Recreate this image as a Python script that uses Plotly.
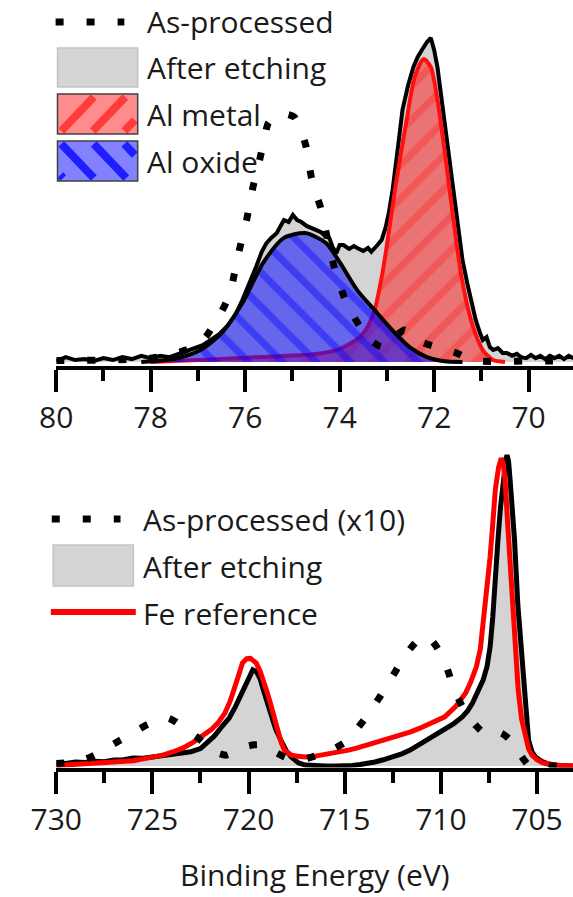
import plotly.graph_objects as go

# ---------------- Al 2p panel (top) ----------------
al_etched_be = [80.0, 79.8, 79.6, 79.4, 79.2, 79.0, 78.8, 78.6, 78.4, 78.2, 78.0, 77.8, 77.6, 77.47, 77.3,
                77.1, 76.9, 76.73, 76.55, 76.36, 76.2, 76.06, 75.9, 75.77, 75.65, 75.55, 75.45, 75.33, 75.25,
                75.18, 75.08, 74.99, 74.9, 74.81, 74.7, 74.6, 74.52, 74.4, 74.3, 74.22, 74.15, 74.07, 74.0,
                73.92, 73.8, 73.7, 73.63, 73.5, 73.4, 73.33, 73.2, 73.11, 73.03, 72.96, 72.88, 72.81, 72.74,
                72.67, 72.55, 72.44, 72.35, 72.26, 72.15, 72.07, 72.0, 71.93, 71.82, 71.75, 71.67, 71.58,
                71.49, 71.4, 71.3, 71.2, 71.12, 71.03, 70.97, 70.89, 70.82, 70.75, 70.65, 70.55, 70.46,
                70.35, 70.25, 70.16, 70.05, 69.95, 69.85, 69.75, 69.65, 69.55, 69.45, 69.35, 69.25, 69.15, 69.05]
al_etched_int = [0.3, 1.5, 0.6, 0.9, 0.3, 1.2, 0.6, 1.5, 0.9, 1.9, 1.2, 1.9, 1.5, 2.2, 3.1,
                 4.3, 5.2, 6.8, 8.6, 11.4, 14.8, 19.1, 24.4, 29.3, 34.0, 36.7, 38.3, 39.8, 42.0,
                 43.8, 43.2, 45.4, 43.8, 43.2, 42.0, 41.4, 40.7, 40.1, 38.9, 38.3, 35.5, 33.6, 36.1,
                 36.1, 34.9, 35.8, 35.2, 34.3, 35.2, 34.0, 36.1, 37.7, 41.4, 46.0, 53.1, 60.2, 69.4,
                 77.8, 85.5, 91.0, 94.1, 96.3, 98.8, 100.0, 96.3, 91.0, 78.7, 70.1, 60.2, 50.0,
                 39.8, 31.5, 24.4, 17.6, 13.0, 9.0, 6.8, 7.7, 4.6, 3.7, 4.3, 2.8, 2.8,
                 1.9, 2.5, 1.5, 1.2, 2.2, 1.2, 1.9, 0.9, 1.9, 1.2, 1.9, 0.9, 1.9, 1.2]

al_metal_be = [78.0, 77.0, 76.0, 75.0, 74.6, 74.0, 73.57, 73.4, 73.26, 73.1, 73.0, 72.81, 72.59, 72.41,
               72.22, 72.07, 71.93, 71.78, 71.6, 71.42, 71.2, 70.97, 70.75, 70.5]
al_metal_int = [0.0, 0.6, 1.3, 2.0, 2.3, 4.0, 7.7, 11.0, 16.0, 27.0, 36.0, 55.0, 74.0, 88.0,
                93.5, 91.0, 81.0, 65.4, 44.8, 26.2, 12.0, 3.7, 0.6, 0.0]

al_oxide_be = [78.2, 77.46, 76.95, 76.5, 76.06, 75.62, 75.18, 74.73, 74.29, 73.99, 73.63, 73.26,
               72.89, 72.52, 72.15, 71.78, 71.4]
al_oxide_int = [0.0, 1.1, 3.7, 8.9, 18.2, 30.6, 38.3, 39.8, 36.7, 30.6, 22.2, 16.0,
                9.9, 4.6, 1.5, 0.2, 0.0]

al_asproc_be = [80.0, 79.5, 79.0, 78.5, 78.0, 77.6, 77.2, 76.85, 76.54, 76.4, 76.28, 76.14, 75.97,
                75.84, 75.68, 75.51, 75.35, 75.2, 75.1, 74.96, 74.82, 74.71, 74.6, 74.5, 74.4, 74.25,
                74.1, 73.88, 73.7, 73.55, 73.35, 73.11, 72.9, 72.75, 72.63, 72.45, 72.26, 72.0, 71.8,
                71.53, 71.3, 71.04, 70.5, 70.0, 69.5, 69.06]
al_asproc_int = [0.5, 0.5, 0.6, 0.8, 1.2, 2.2, 4.0, 7.5, 14.5, 18.5, 23.8, 33.6, 43.8,
                 53.7, 63.3, 73.8, 76.0, 76.5, 76.4, 75.6, 71.5, 66.4, 57.1, 52.0, 47.5, 37.5,
                 28.4, 19.1, 14.0, 10.5, 6.8, 4.6, 6.5, 8.8, 9.9, 8.5, 6.2, 4.8, 4.0,
                 2.8, 1.2, 0.3, 0.2, 0.3, 0.3, 0.3]

# ---------------- Fe 2p panel (bottom) ----------------
fe_etched_be = [730.0, 729.5, 729.0, 728.5, 728.0, 727.5, 727.0, 726.5, 726.0, 725.5, 725.0, 724.5,
                724.0, 723.5, 723.0, 722.5, 722.14, 721.8, 721.41, 721.0, 720.69, 720.4, 720.14, 719.95,
                719.78, 719.6, 719.4, 719.23, 719.05, 718.87, 718.6, 718.33, 718.05, 717.78, 717.4,
                717.05, 716.5, 716.0, 715.5, 715.0, 714.6, 714.2, 713.8, 713.43, 713.0, 712.52, 712.0,
                711.6, 711.15, 710.7, 710.25, 709.8, 709.35, 708.89, 708.6, 708.35, 708.1, 707.8, 707.6,
                707.44, 707.3, 707.17, 707.03, 706.9, 706.75, 706.62, 706.56, 706.48, 706.4, 706.3,
                706.17, 706.0, 705.8, 705.62, 705.44, 705.26, 705.08, 704.7, 704.36, 704.0, 703.5, 703.1]
fe_etched_int = [1.0, 0.8, 1.3, 1.1, 1.5, 1.4, 1.9, 2.0, 2.6, 2.5, 2.9, 3.3,
                 3.7, 4.0, 4.6, 5.6, 7.4, 9.5, 12.5, 15.5, 19.0, 23.0, 26.7, 29.5,
                 30.9, 30.4, 28.0, 24.4, 20.5, 17.0, 12.0, 8.4, 5.0, 2.9, 1.0,
                 0.3, 0.0, 0.0, 0.0, 0.0, 0.2, 0.5, 0.8, 1.3, 2.0, 2.9, 4.0,
                 5.1, 6.7, 8.4, 10.0, 11.6, 13.5, 15.8, 17.8, 20.3, 23.5, 27.7, 32.0,
                 38.3, 48.0, 62.1, 73.0, 83.3, 93.0, 98.5, 100.0, 98.0, 92.0, 84.0,
                 72.7, 52.0, 35.0, 20.0, 8.4, 4.5, 2.9, 1.3, 0.5, 0.2, 0.0, 0.0]

fe_ref_be = [730.0, 729.0, 728.0, 727.03, 726.0, 725.22, 724.5, 723.95, 723.4, 722.87, 722.4, 721.96,
             721.6, 721.23, 720.95, 720.69, 720.5, 720.32, 720.1, 719.9, 719.75, 719.6, 719.4, 719.23,
             719.05, 718.87, 718.7, 718.5, 718.3, 718.14, 717.78, 717.4, 717.05, 716.6, 716.15, 715.7,
             715.24, 714.8, 714.34, 713.9, 713.43, 713.0, 712.52, 712.05, 711.61, 711.15, 710.7, 710.25,
             709.8, 709.25, 708.71, 708.45, 708.16, 707.95, 707.8, 707.6, 707.44, 707.3, 707.17, 707.0,
             706.86, 706.75, 706.65, 706.53, 706.4, 706.26, 706.12, 705.98, 705.8, 705.62, 705.44,
             705.26, 705.0, 704.71, 704.3, 703.8, 703.1]
fe_ref_int = [0.2, 0.5, 0.7, 1.0, 1.7, 2.6, 3.4, 4.5, 5.8, 7.7, 9.5, 11.6,
              13.8, 17.0, 21.0, 25.4, 29.5, 33.1, 34.5, 34.6, 34.0, 33.1, 30.5, 27.7,
              24.0, 20.3, 16.0, 11.6, 7.5, 5.1, 3.5, 3.1, 2.9, 3.1, 3.5, 4.0,
              4.5, 5.1, 5.8, 6.6, 7.4, 8.2, 9.0, 9.9, 10.9, 12.0, 13.2, 14.4,
              15.8, 19.0, 23.5, 27.0, 31.8, 37.5, 46.0, 56.0, 67.2, 78.0, 88.7, 96.0,
              99.0, 97.0, 91.0, 78.1, 65.0, 51.1, 37.0, 24.4, 15.0, 9.3, 5.5,
              3.5, 2.0, 1.0, 0.5, 0.2, 0.0]

fe_asproc_be = [730.0, 729.2, 728.6, 728.2, 727.7, 727.2, 726.7, 726.17, 725.7, 725.3, 724.75, 724.2,
                723.8, 723.45, 723.05, 722.68, 722.3, 721.9, 721.5, 721.15, 720.7, 720.23, 719.7, 719.23,
                718.9, 718.54, 718.0, 717.4, 716.7, 716.06, 715.5, 714.97, 714.6, 714.2, 713.85, 713.51,
                713.15, 712.79, 712.45, 712.16, 711.85, 711.52, 711.1, 710.74, 710.3, 709.88, 709.6,
                709.35, 709.0, 708.62, 708.15, 707.71, 707.3, 706.9, 706.6, 706.26, 705.85, 705.44,
                705.0, 704.0, 703.1]
fe_asproc_int = [0.8, 1.2, 2.0, 2.9, 4.5, 6.4, 8.2, 10.0, 11.8, 13.2, 14.6, 15.4,
                 14.2, 12.5, 10.8, 9.3, 7.3, 5.1, 3.9, 3.5, 4.6, 6.1, 6.8, 6.8,
                 5.6, 4.2, 2.6, 1.9, 2.9, 4.5, 5.8, 7.7, 10.2, 13.2, 16.0, 19.0,
                 22.5, 26.0, 29.5, 32.5, 35.5, 38.3, 41.0, 41.8, 39.0, 34.7, 30.0,
                 25.1, 20.5, 16.4, 12.8, 10.3, 10.2, 10.6, 9.5, 7.4, 3.5, 0.3,
                 0.0, 0.0, 0.0]

top_ticks = [80, 78, 76, 74, 72, 70]
bottom_ticks = [730, 725, 720, 715, 710, 705]
x_title = "Binding Energy (eV)"
top_legend = ["As-processed", "After etching", "Al metal", "Al oxide"]
bottom_legend = ["As-processed (x10)", "After etching", "Fe reference"]

# ---------------- styling / layout helpers ----------------
W, H = 573, 897
FONT = "Open Sans"
TXT = "#1a1a1a"
GREY = "#d4d4d4"
DOTS = "8px,23px"


def px(x):
    return x / W


def py(y):
    return 1 - y / H


def ydom(line_px, base_px, k, top_px):
    lp = line_px - 2
    dom = [py(lp), py(top_px)]
    r0 = -(lp - base_px) / k
    r1 = r0 + (lp - top_px) / k
    return dom, [r0, r1]


top_dom, top_rng = ydom(368, 362, 3.24, 0)
bot_dom, bot_rng = ydom(769.5, 766, 3.11, 440)
xdom = [31.7 / W, 1.0]

fig = go.Figure()

# top panel traces
fig.add_trace(go.Scatter(x=al_etched_be, y=al_etched_int, mode="lines", fill="tozeroy",
                         fillcolor=GREY, line=dict(color="black", width=4),
                         xaxis="x", yaxis="y", showlegend=False))
fig.add_trace(go.Scatter(x=al_metal_be, y=al_metal_int, mode="lines", fill="tozeroy",
                         line=dict(color="#ff1010", width=4, shape="spline", smoothing=0.7),
                         fillpattern=dict(shape="/", bgcolor="rgba(255,20,20,0.5)",
                                          fgcolor="rgba(255,40,40,0.75)", size=24, solidity=0.3),
                         xaxis="x", yaxis="y", showlegend=False))
fig.add_trace(go.Scatter(x=al_oxide_be, y=al_oxide_int, mode="lines", fill="tozeroy",
                         line=dict(color="black", width=4, shape="spline", smoothing=0.7),
                         fillpattern=dict(shape="\\", bgcolor="rgba(10,10,255,0.55)",
                                          fgcolor="rgba(0,0,255,0.8)", size=24, solidity=0.3),
                         xaxis="x", yaxis="y", showlegend=False))
fig.add_trace(go.Scatter(x=al_asproc_be, y=al_asproc_int, mode="lines",
                         line=dict(color="black", width=7, dash=DOTS, shape="spline", smoothing=0.6),
                         xaxis="x", yaxis="y", showlegend=False))

# bottom panel traces
fig.add_trace(go.Scatter(x=fe_etched_be, y=fe_etched_int, mode="lines", fill="tozeroy",
                         fillcolor=GREY, line=dict(color="black", width=5),
                         xaxis="x2", yaxis="y2", showlegend=False))
fig.add_trace(go.Scatter(x=fe_ref_be, y=fe_ref_int, mode="lines",
                         line=dict(color="#ff0000", width=5),
                         xaxis="x2", yaxis="y2", showlegend=False))
fig.add_trace(go.Scatter(x=fe_asproc_be, y=fe_asproc_int, mode="lines",
                         line=dict(color="black", width=7, dash=DOTS, shape="spline", smoothing=0.6),
                         xaxis="x2", yaxis="y2", showlegend=False))

axis_common = dict(
    showline=True, linewidth=4, linecolor="black", mirror=False,
    ticks="outside", ticklen=22, tickwidth=4, tickcolor="black",
    showgrid=False, zeroline=False,
    tickfont=dict(family=FONT, size=30, color=TXT),
)

fig.update_layout(
    width=W, height=H,
    margin=dict(l=0, r=0, t=0, b=0),
    paper_bgcolor="white", plot_bgcolor="white",
    xaxis=dict(domain=xdom, anchor="y", range=[80, 69.06], tickvals=top_ticks,
               minor=dict(dtick=1, tick0=70, ticks="outside", ticklen=11, tickwidth=4,
                          tickcolor="black", showgrid=False),
               **axis_common),
    yaxis=dict(domain=top_dom, range=top_rng, visible=False),
    xaxis2=dict(domain=xdom, anchor="y2", range=[730, 703.13], tickvals=bottom_ticks,
                minor=dict(dtick=2.5, tick0=705, ticks="outside", ticklen=11, tickwidth=4,
                           tickcolor="black", showgrid=False),
                **axis_common),
    yaxis2=dict(domain=bot_dom, range=bot_rng, visible=False),
)

shapes = []
annotations = []


def stripes(x0, y0, x1, y1, cs, direction, color, width):
    out = []
    for c in cs:
        if direction == "/":   # x + y = c (pixel coords, y down)
            lo = max(x0, c - y1)
            hi = min(x1, c - y0)
            if lo < hi:
                out.append(dict(type="line", xref="paper", yref="paper",
                                x0=px(lo), y0=py(c - lo), x1=px(hi), y1=py(c - hi),
                                line=dict(color=color, width=width)))
        else:                  # x - y = c
            lo = max(x0, c + y0)
            hi = min(x1, c + y1)
            if lo < hi:
                out.append(dict(type="line", xref="paper", yref="paper",
                                x0=px(lo), y0=py(lo - c), x1=px(hi), y1=py(hi - c),
                                line=dict(color=color, width=width)))
    return out


def rect(x0, y0, x1, y1, fill, border, bw):
    return dict(type="rect", xref="paper", yref="paper", x0=px(x0), x1=px(x1),
                y0=py(y1), y1=py(y0), fillcolor=fill, line=dict(color=border, width=bw))


def label(x, y, text):
    return dict(x=px(x), y=py(y), xref="paper", yref="paper", text=text, showarrow=False,
                xanchor="left", yanchor="middle", font=dict(family=FONT, size=30, color=TXT))


# top legend
shapes.append(dict(type="line", xref="paper", yref="paper", x0=px(31), x1=px(103),
                   y0=py(22), y1=py(22), line=dict(color="black", width=7, dash=DOTS)))
shapes.append(rect(33, 48, 117, 87, GREY, "#c4c4c4", 1.5))
shapes.append(rect(33, 94, 117, 134, "#ff8c8c", "rgba(0,0,0,0)", 0))
shapes += stripes(36, 97, 114, 131, [168, 201, 234], "/", "#ff3c3c", 8)
shapes.append(rect(33, 94, 117, 134, "rgba(0,0,0,0)", "#404040", 1.5))
shapes.append(rect(33, 141, 117, 181, "#8282ff", "rgba(0,0,0,0)", 0))
shapes += stripes(36, 144, 114, 178, [-139, -107, -73, -41], "\\", "#1e1eff", 8)
shapes.append(rect(33, 141, 117, 181, "rgba(0,0,0,0)", "#404040", 1.5))
for text, yy in zip(top_legend, [22, 68, 114, 161]):
    annotations.append(label(125, yy, text))

# bottom legend
shapes.append(dict(type="line", xref="paper", yref="paper", x0=px(27), x1=px(99),
                   y0=py(519), y1=py(519), line=dict(color="black", width=7, dash=DOTS)))
shapes.append(rect(28.5, 545, 112.5, 586, GREY, "#c4c4c4", 1.5))
shapes.append(dict(type="line", xref="paper", yref="paper", x0=px(26), x1=px(115),
                   y0=py(612), y1=py(612), line=dict(color="#ff0000", width=6)))
for text, yy in zip(bottom_legend, [519, 566, 613]):
    annotations.append(label(120, yy, text))

# x-axis title
annotations.append(dict(x=(xdom[0] + xdom[1]) / 2, y=py(874), xref="paper", yref="paper",
                        text=x_title, showarrow=False, xanchor="center", yanchor="middle",
                        font=dict(family=FONT, size=30, color=TXT)))

fig.update_layout(shapes=shapes, annotations=annotations)
fig.write_html("out.html")
